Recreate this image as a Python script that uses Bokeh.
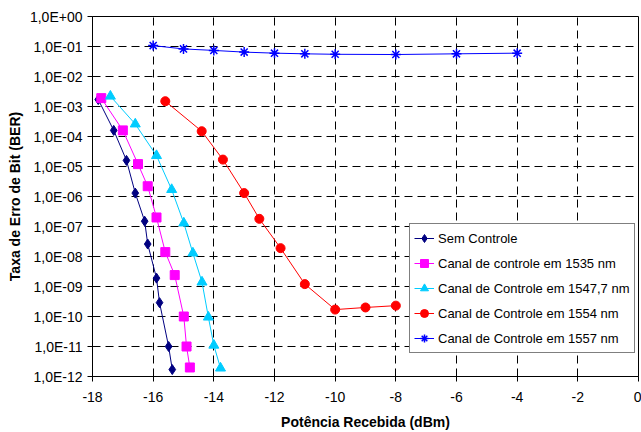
from bokeh.plotting import figure
from bokeh.embed import file_html
from bokeh.resources import INLINE
from bokeh.models import FixedTicker, CustomJSTickFormatter, Legend, LegendItem, Range1d

# ---- data ----
sem_x = [-17.81, -17.30, -16.88, -16.59, -16.28, -16.18, -15.89, -15.79, -15.49, -15.37]
sem_y = [1.7e-3, 1.6e-4, 1.6e-5, 1.3e-6, 1.5e-7, 2.6e-8, 1.9e-9, 2.9e-10, 1.0e-11, 1.7e-12]

c1535_x = [-17.71, -17.00, -16.50, -16.18, -15.89, -15.60, -15.29, -14.99, -14.90, -14.79]
c1535_y = [1.9e-3, 1.6e-4, 1.2e-5, 2.2e-6, 2.0e-7, 1.4e-8, 2.4e-9, 1.0e-10, 1.0e-11, 2.0e-12]

c15477_x = [-17.41, -16.59, -15.89, -15.39, -14.99, -14.69, -14.39, -14.18, -14.00, -13.78]
c15477_y = [2.2e-3, 2.6e-4, 2.3e-5, 1.7e-6, 1.3e-7, 1.3e-8, 1.4e-9, 9.5e-11, 1.1e-11, 1.9e-12]

c1554_x = [-15.6, -14.4, -13.7, -13.0, -12.5, -11.8, -11.0, -10.0, -9.0, -8.0]
c1554_y = [1.5e-3, 1.5e-4, 1.7e-5, 1.3e-6, 1.8e-7, 1.9e-8, 1.2e-9, 1.7e-10, 2.0e-10, 2.3e-10]

c1557_x = [-16, -15, -14, -13, -12, -11, -10, -8, -6, -4]
c1557_y = [1.07e-1, 8.3e-2, 7.4e-2, 6.5e-2, 6.0e-2, 5.7e-2, 5.5e-2, 5.4e-2, 5.7e-2, 6.0e-2]

x_ticks = [-18, -16, -14, -12, -10, -8, -6, -4, -2, 0]
y_ticks = [10.0 ** (-k) for k in range(0, 13)]

series_labels = ["Sem Controle", "Canal de controle em 1535 nm", "Canal de Controle em 1547,7 nm",
                 "Canal de Controle em 1554 nm", "Canal de Controle em 1557 nm"]

FONT = "Liberation Sans"

p = figure(width=641, height=432, output_backend="svg", toolbar_location=None,
           y_axis_type="log",
           x_range=Range1d(-18, 0), y_range=Range1d(1e-12, 1),
           min_border_left=92, min_border_right=3, min_border_top=16, min_border_bottom=56)

p.outline_line_color = "black"
p.outline_line_width = 1
p.background_fill_color = "white"
p.border_fill_color = "white"

# axes
p.xaxis.ticker = FixedTicker(ticks=x_ticks, minor_ticks=[])
p.yaxis.ticker = FixedTicker(ticks=y_ticks, minor_ticks=[])
p.xaxis.formatter = CustomJSTickFormatter(code="""
    const v = Math.round(tick);
    return v < 0 ? "-" + Math.abs(v) : "" + v;
""")
p.yaxis.formatter = CustomJSTickFormatter(code="""
    const e = Math.round(Math.log10(tick));
    const s = e >= 0 ? "+" : "-";
    const a = Math.abs(e);
    return "1,0E" + s + (a < 10 ? "0" + a : "" + a);
""")
for ax in (p.xaxis[0], p.yaxis[0]):
    ax.axis_line_color = "black"
    ax.axis_line_width = 1
    ax.major_tick_line_color = "black"
    ax.major_tick_in = 0
    ax.major_tick_out = 5
    ax.minor_tick_line_color = None
    ax.major_label_text_font = FONT
    ax.major_label_text_font_size = "14px"
    ax.major_label_text_color = "black"
    ax.axis_label_text_font = FONT
    ax.axis_label_text_font_size = "14px"
    ax.axis_label_text_font_style = "bold"
    ax.axis_label_text_color = "black"

p.xaxis.axis_label = "Potência Recebida (dBm)"
p.yaxis.axis_label = "Taxa de Erro de Bit (BER)"
p.xaxis.major_label_standoff = 10
p.xaxis.axis_label_standoff = 9
p.yaxis.major_label_standoff = 5
p.yaxis.axis_label_standoff = 4

# grid
for g in (p.xgrid[0], p.ygrid[0]):
    g.grid_line_color = "black"
    g.grid_line_dash = "8 5"
    g.grid_line_width = 1
p.xgrid.ticker = FixedTicker(ticks=x_ticks)
p.ygrid.ticker = FixedTicker(ticks=y_ticks)

# series
specs = [
    (sem_x, sem_y, "#000080", "diamond", 10),
    (c1535_x, c1535_y, "#FF00FF", "square", 9),
    (c15477_x, c15477_y, "#00CCFF", "triangle", 10),
    (c1554_x, c1554_y, "#FF0000", "circle", 9),
    (c1557_x, c1557_y, "#0000FF", "asterisk", 10),
]
items = []
for (xs, ys, col, mk, sz), lab in zip(specs, series_labels):
    r1 = p.line(xs, ys, line_color=col, line_width=1)
    if mk == "asterisk":
        r2 = p.scatter(xs, ys, marker=mk, size=sz, line_color=col, line_width=1.5)
    else:
        r2 = p.scatter(xs, ys, marker=mk, size=sz, fill_color=col, line_color=col)
    items.append(LegendItem(label=lab, renderers=[r1, r2]))

legend = Legend(items=items, location=(317, 23))
legend.border_line_color = "black"
legend.border_line_width = 1
legend.background_fill_color = "white"
legend.background_fill_alpha = 1
legend.label_text_font = FONT
legend.label_text_font_size = "13px"
legend.label_text_color = "black"
legend.glyph_width = 20
legend.glyph_height = 20
legend.spacing = 5
legend.padding = 4
legend.margin = 0
legend.label_standoff = 4
legend.label_height = 20
p.add_layout(legend, "center")

open("out.html", "w").write(file_html(p, INLINE))
